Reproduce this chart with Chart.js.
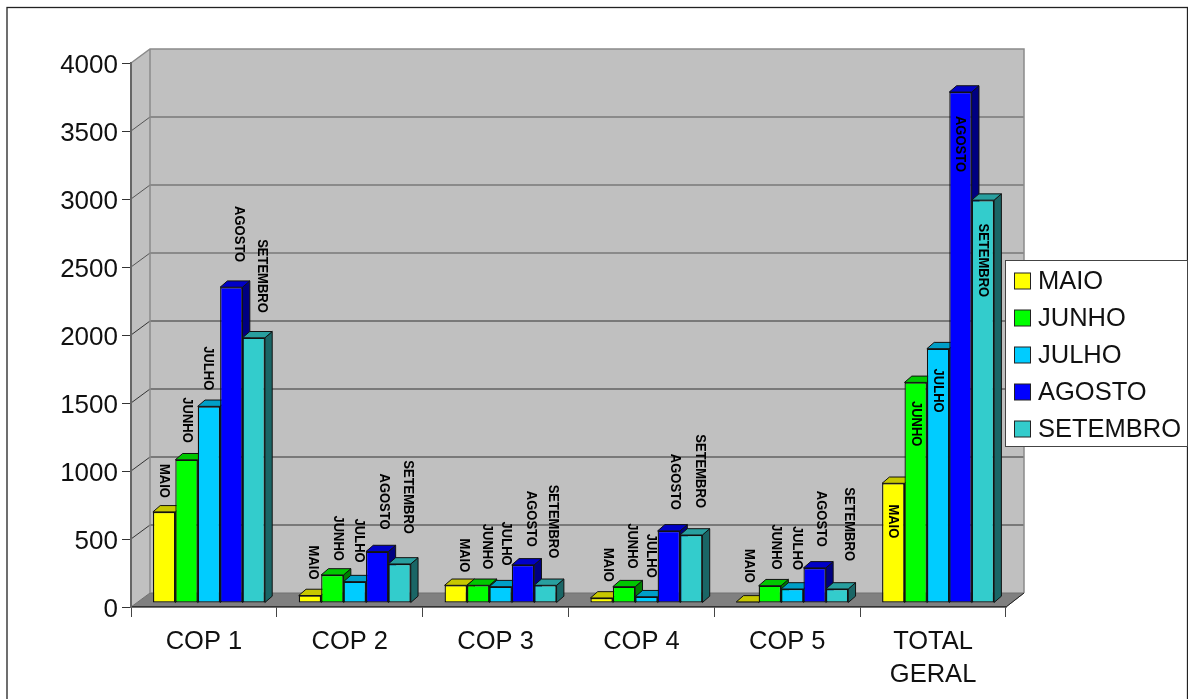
<!DOCTYPE html>
<html>
<head>
<meta charset="utf-8">
<title>COP</title>
<script src="https://cdn.jsdelivr.net/npm/chart.js@4"></script>
<style>
  html, body { margin: 0; background: #fff; }
  canvas { display: block; }
</style>
</head>
<body>
<canvas id="copChart" width="1188" height="699"></canvas>
<script>
var categories = ['COP 1', 'COP 2', 'COP 3', 'COP 4', 'COP 5', ['TOTAL', 'GERAL']];
var maio     = [670, 55, 130, 37, 8, 880];
var junho    = [1053, 206, 130, 120, 127, 1622];
var julho    = [1446, 157, 120, 46, 103, 1870];
var agosto   = [2322, 378, 280, 530, 258, 3757];
var setembro = [1950, 287, 130, 500, 103, 2962];
var seriesNames = ['MAIO', 'JUNHO', 'JULHO', 'AGOSTO', 'SETEMBRO'];
var seriesValues = [maio, junho, julho, agosto, setembro];
var seriesColors = ['#ffff00', '#00ff00', '#00ccff', '#0000ff', '#33cccc'];

// sideways labels: [dx from bar centre, gap between bar top and end of text], one row per category
var labelShift = [
    [[0, 14], [1, 17], [-1, 16], [7.5, 25], [8, 25]],
    [[3.5, 16], [6, 14], [4, 19], [7, 22], [9, 30]],
    [[8, 13], [9, 16], [6, 21], [8, 18], [8, 27]],
    [[6, 16], [8, 18], [5, 19], [6.5, 21], [9, 27]],
    [[1.5, 19], [6, 16], [5, 19], [6, 21], [12, 28]],
    [[0, -55], [0, -64], [0, -64], [0, -80], [0, -97]]
];

var FONT = '"Liberation Sans", Arial, sans-serif';
var WALL = { dx: 19, dy: -14 };     // front axes to back wall
var BAR_SHIFT = { dx: 5, dy: -4 };  // bars stand a little behind the front edge
var BAR_DEPTH = { dx: 7.3, dy: -6.3 };

function shade(hex, f) {
    var n = parseInt(hex.slice(1), 16);
    var r = Math.round((n >> 16 & 255) * f);
    var g = Math.round((n >> 8 & 255) * f);
    var b = Math.round((n & 255) * f);
    return 'rgb(' + r + ',' + g + ',' + b + ')';
}

function poly(ctx, pts, fill, stroke, lw) {
    ctx.beginPath();
    ctx.moveTo(pts[0][0], pts[0][1]);
    for (var i = 1; i < pts.length; i++) ctx.lineTo(pts[i][0], pts[i][1]);
    ctx.closePath();
    if (fill) { ctx.fillStyle = fill; ctx.fill(); }
    if (stroke) { ctx.strokeStyle = stroke; ctx.lineWidth = lw || 1; ctx.stroke(); }
}

var box3d = {
    id: 'box3d',
    beforeDraw: function(chart) {
        var ctx = chart.ctx, a = chart.chartArea, y = chart.scales.y;
        var bx = a.left + WALL.dx, rx = a.right + WALL.dx - 1;
        var top = a.top + WALL.dy, floor = a.bottom + WALL.dy;

        // outer frame
        ctx.strokeStyle = '#222';
        ctx.lineWidth = 1.3;
        ctx.strokeRect(7, 7.5, 1180.5, 720);

        // side wall, back wall, floor
        poly(ctx, [[a.left, a.top], [bx, top], [bx, floor], [a.left, a.bottom]], '#c0c0c0');
        ctx.fillStyle = '#c0c0c0';
        ctx.fillRect(bx, top, rx - bx, floor - top);

        y.ticks.forEach(function(t) {
            var py = y.getPixelForValue(t.value);
            if (t.value === 0 || t.value === 4000) return;
            ctx.beginPath();
            ctx.moveTo(a.left, py);
            ctx.lineTo(bx, py + WALL.dy);
            ctx.lineTo(rx, py + WALL.dy);
            ctx.strokeStyle = t.value >= 2500 ? '#555' : '#333';
            ctx.lineWidth = 1;
            ctx.stroke();
        });

        poly(ctx, [[a.left, a.bottom], [a.right, a.bottom], [rx, floor], [bx, floor]], '#808080', '#707070');

        // wall edges
        ctx.strokeStyle = '#8a8a8a';
        ctx.lineWidth = 1.5;
        ctx.beginPath();
        ctx.moveTo(a.left, a.top);
        ctx.lineTo(bx, top);
        ctx.lineTo(rx, top);
        ctx.lineTo(rx, floor);
        ctx.moveTo(bx, top);
        ctx.lineTo(bx, floor);
        ctx.stroke();

        // dark edge of the floor at its right corner
        ctx.strokeStyle = '#222';
        ctx.lineWidth = 1;
        ctx.beginPath();
        ctx.moveTo(a.right, a.bottom);
        ctx.lineTo(rx, floor);
        ctx.stroke();
    },
    beforeDatasetsDraw: function(chart) {
        var ctx = chart.ctx;
        ctx.save();
        ctx.translate(BAR_SHIFT.dx, BAR_SHIFT.dy);
        // top and side faces, left to right so each one hides the one before it
        for (var c = 0; c < categories.length; c++) {
            for (var s = 0; s < seriesNames.length; s++) {
                var b = chart.getDatasetMeta(s).data[c];
                var l = b.x - b.width / 2, r = b.x + b.width / 2;
                var t = b.y, bot = b.base;
                var dx = BAR_DEPTH.dx, dy = BAR_DEPTH.dy;
                poly(ctx, [[r, t], [r + dx, t + dy], [r + dx, bot + dy], [r, bot]], shade(seriesColors[s], 0.5), '#111', 1);
                poly(ctx, [[l, t], [l + dx, t + dy], [r + dx, t + dy], [r, t]], shade(seriesColors[s], 0.78), '#111', 1);
            }
        }
    },
    afterDatasetsDraw: function(chart) {
        var ctx = chart.ctx;
        for (var s = 0; s < seriesNames.length; s++) {
            chart.getDatasetMeta(s).data.forEach(function(b, c) {
                var shift = labelShift[c][s];
                ctx.save();
                ctx.translate(b.x + shift[0], b.y - shift[1]);
                ctx.rotate(Math.PI / 2);
                ctx.scale(1, 1.15);
                ctx.font = 'bold 13px ' + FONT;
                ctx.textAlign = 'right';
                ctx.textBaseline = 'middle';
                ctx.fillStyle = '#000';
                ctx.fillText(seriesNames[s], 0, 0);
                ctx.restore();
            });
        }
        ctx.restore();
    },
    afterDraw: function(chart) {
        // legend panel, on top of the right end of the wall
        var ctx = chart.ctx;
        ctx.fillStyle = '#fff';
        ctx.fillRect(1005, 260, 183, 186);
        ctx.strokeStyle = '#444';
        ctx.lineWidth = 1;
        ctx.strokeRect(1005.5, 260.5, 182, 186);
        ctx.textAlign = 'left';
        ctx.textBaseline = 'middle';
        ctx.font = '25.5px ' + FONT;
        chart.data.datasets.forEach(function(ds, i) {
            var cy = 281 + 37 * i;
            ctx.fillStyle = ds.backgroundColor;
            ctx.fillRect(1014.5, cy - 8, 16, 16);
            ctx.strokeStyle = '#222';
            ctx.strokeRect(1014.5, cy - 8, 16, 16);
            ctx.fillStyle = '#111';
            ctx.fillText(ds.label, 1038, cy + 1);
        });
    }
};

var datasets = seriesNames.map(function(name, i) {
    return {
        label: name,
        data: seriesValues[i],
        backgroundColor: seriesColors[i],
        borderColor: '#111',
        borderWidth: 1.3,
        borderSkipped: false,
        categoryPercentage: 0.768,
        barPercentage: 1,
        clip: false
    };
});

new Chart(document.getElementById('copChart').getContext('2d'), {
    type: 'bar',
    data: { labels: categories, datasets: datasets },
    plugins: [box3d],
    options: {
        responsive: false,
        animation: false,
        layout: { padding: { top: 63, left: 0, right: 182, bottom: 0 } },
        plugins: {
            legend: { display: false },
            tooltip: { enabled: false }
        },
        scales: {
            x: {
                afterFit: function(scale) { scale.height = 92; },
                grid: { drawOnChartArea: false, tickLength: 10, color: '#444' },
                border: { color: '#333', width: 1.5 },
                ticks: {
                    maxRotation: 0,
                    padding: 8,
                    color: '#111',
                    font: { size: 25.5, family: FONT, lineHeight: 1.3 }
                }
            },
            y: {
                min: 0,
                max: 4000,
                afterFit: function(scale) { scale.width = 131; },
                grid: { drawOnChartArea: false, tickLength: 9, color: '#333' },
                border: { color: '#666', width: 2 },
                ticks: {
                    stepSize: 500,
                    padding: 4,
                    labelOffset: 3,
                    color: '#111',
                    font: { size: 26, family: FONT },
                    callback: function(v) { return String(v); }
                }
            }
        }
    }
});
</script>
</body>
</html>
